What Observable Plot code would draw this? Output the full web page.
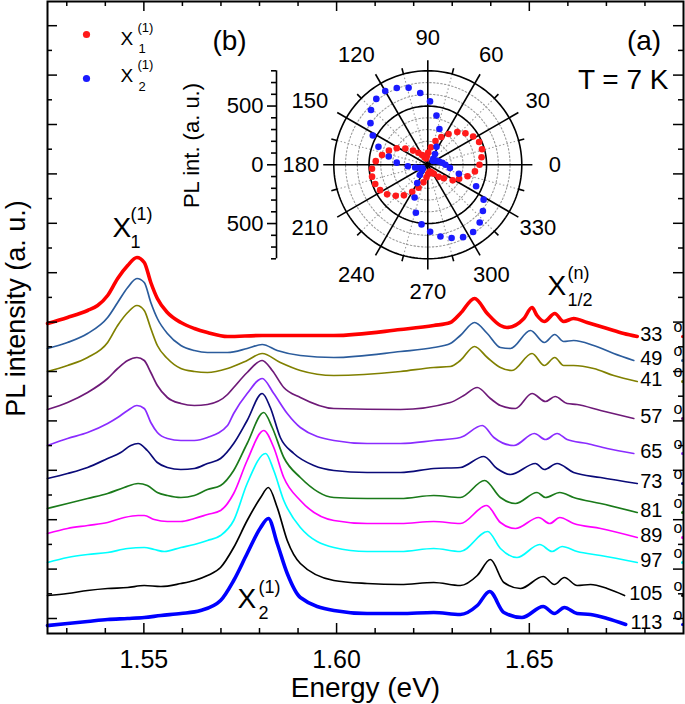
<!DOCTYPE html>
<html><head><meta charset="utf-8">
<script src="https://cdn.jsdelivr.net/npm/d3@7"></script>
<script src="https://cdn.jsdelivr.net/npm/@observablehq/plot@0.6"></script>
<style>
body{margin:0;background:#fff;}
#wrap{position:relative;width:685px;height:704px;}
#wrap svg{position:absolute;left:0;top:0;}
#wrap svg.inset{background:transparent !important;}
</style></head><body><div id="wrap"></div>
<script>
// ---------- DATA ----------
const angles = [33, 49, 41, 57, 65, 73, 81, 89, 97, 105, 113];

const s33 = [[1.5250,310],[1.5302,316],[1.5354,323],[1.5380,328],[1.5406,338],[1.5432,355],[1.5458,368],[1.5482,376],[1.5501,371],[1.5518,351],[1.5535,335],[1.5561,321],[1.5596,311],[1.5631,305],[1.5665,301],[1.5717,297],[1.5807,298],[1.5900,298],[1.5993,298],[1.6166,304],[1.6252,308],[1.6295,311],[1.6321,320],[1.6358,335],[1.6391,320],[1.6425,308],[1.6442,306],[1.6486,315],[1.6507,326],[1.6520,318],[1.6539,312],[1.6566,320],[1.6589,312],[1.6615,315],[1.6650,311],[1.6702,305],[1.6745,300],[1.6780,297]];
const s49 = [[1.5250,285],[1.5302,291],[1.5354,300],[1.5406,316],[1.5432,331],[1.5458,346],[1.5482,355],[1.5501,351],[1.5518,331],[1.5535,315],[1.5561,300],[1.5596,288],[1.5631,283],[1.5665,281],[1.5717,281],[1.5768,285],[1.5807,289],[1.5846,283],[1.5906,278],[1.5993,276],[1.6166,282],[1.6252,286],[1.6295,290],[1.6321,298],[1.6358,311],[1.6391,300],[1.6425,286],[1.6451,285],[1.6503,303],[1.6539,291],[1.6566,299],[1.6589,292],[1.6615,293],[1.6667,288],[1.6719,280],[1.6771,273]];
const s41 = [[1.5250,262],[1.5302,268],[1.5354,276],[1.5406,291],[1.5432,308],[1.5458,321],[1.5482,328],[1.5501,323],[1.5518,305],[1.5535,288],[1.5561,275],[1.5596,265],[1.5631,262],[1.5665,261],[1.5717,265],[1.5768,273],[1.5807,280],[1.5854,271],[1.5906,263],[1.5993,258],[1.6166,262],[1.6252,266],[1.6295,267],[1.6321,273],[1.6358,287],[1.6391,276],[1.6425,266],[1.6455,263],[1.6507,280],[1.6539,268],[1.6566,276],[1.6589,268],[1.6615,268],[1.6667,265],[1.6719,258],[1.6780,252]];
const s57 = [[1.5250,224],[1.5302,231],[1.5354,241],[1.5406,255],[1.5432,265],[1.5458,273],[1.5482,276],[1.5501,273],[1.5518,261],[1.5535,248],[1.5561,236],[1.5596,230],[1.5631,228],[1.5665,229],[1.5717,239],[1.5733,246],[1.5768,261],[1.5807,273],[1.5833,263],[1.5863,246],[1.5906,236],[1.5993,225],[1.6166,224],[1.6295,231],[1.6330,238],[1.6365,246],[1.6399,235],[1.6425,228],[1.6464,225],[1.6507,240],[1.6542,232],[1.6567,237],[1.6598,230],[1.6624,229],[1.6685,223],[1.6771,215]];
const s65 = [[1.5250,188],[1.5302,195],[1.5354,201],[1.5406,210],[1.5432,216],[1.5458,223],[1.5482,228],[1.5501,225],[1.5518,211],[1.5535,201],[1.5561,195],[1.5596,193],[1.5631,193],[1.5665,196],[1.5717,208],[1.5733,220],[1.5768,240],[1.5807,255],[1.5837,240],[1.5872,220],[1.5906,206],[1.5993,193],[1.6079,190],[1.6166,190],[1.6252,193],[1.6321,196],[1.6378,208],[1.6408,196],[1.6460,188],[1.6513,200],[1.6542,194],[1.6572,200],[1.6598,194],[1.6650,190],[1.6702,185],[1.6771,180]];
const s73 = [[1.5250,155],[1.5302,160],[1.5354,166],[1.5406,175],[1.5440,181],[1.5466,188],[1.5485,190],[1.5509,183],[1.5535,171],[1.5561,166],[1.5596,164],[1.5631,165],[1.5665,170],[1.5699,175],[1.5733,190],[1.5768,213],[1.5807,240],[1.5828,226],[1.5854,196],[1.5889,180],[1.5941,168],[1.5993,163],[1.6079,161],[1.6166,161],[1.6252,165],[1.6321,166],[1.6382,177],[1.6416,165],[1.6451,159],[1.6516,170],[1.6539,164],[1.6572,170],[1.6615,161],[1.6685,156],[1.6780,150]];
const s81 = [[1.5250,125],[1.5302,130],[1.5354,135],[1.5406,140],[1.5449,146],[1.5485,150],[1.5509,148],[1.5535,141],[1.5561,138],[1.5596,136],[1.5631,138],[1.5665,144],[1.5699,148],[1.5733,163],[1.5768,190],[1.5811,221],[1.5833,206],[1.5863,176],[1.5906,156],[1.5993,136],[1.6079,135],[1.6166,135],[1.6252,138],[1.6321,136],[1.6384,153],[1.6425,136],[1.6464,130],[1.6520,141],[1.6542,136],[1.6579,141],[1.6615,136],[1.6685,130],[1.6780,121]];
const s89 = [[1.5250,100],[1.5302,105],[1.5354,108],[1.5406,111],[1.5449,116],[1.5485,118],[1.5501,118],[1.5527,114],[1.5561,112],[1.5596,112],[1.5631,115],[1.5665,119],[1.5699,123],[1.5733,140],[1.5768,173],[1.5811,203],[1.5837,186],[1.5863,156],[1.5906,133],[1.5993,113],[1.6079,110],[1.6166,110],[1.6252,112],[1.6321,110],[1.6389,128],[1.6425,111],[1.6464,105],[1.6524,116],[1.6553,110],[1.6579,116],[1.6615,110],[1.6685,105],[1.6780,96]];
const s97 = [[1.5250,71],[1.5302,76],[1.5354,79],[1.5406,81],[1.5458,85],[1.5501,86],[1.5527,84],[1.5553,82],[1.5596,86],[1.5631,89],[1.5665,93],[1.5699,98],[1.5733,113],[1.5768,150],[1.5816,180],[1.5837,163],[1.5863,133],[1.5906,106],[1.5993,86],[1.6079,82],[1.6166,82],[1.6252,85],[1.6321,82],[1.6392,102],[1.6425,85],[1.6468,76],[1.6527,89],[1.6559,82],[1.6585,87],[1.6624,82],[1.6685,78],[1.6780,71]];
const s105 = [[1.5250,38],[1.5302,40],[1.5354,43],[1.5406,45],[1.5458,46],[1.5501,48],[1.5544,47],[1.5596,50],[1.5631,53],[1.5665,58],[1.5699,66],[1.5733,86],[1.5768,113],[1.5803,136],[1.5823,146],[1.5846,126],[1.5872,93],[1.5906,70],[1.5993,53],[1.6079,50],[1.6166,49],[1.6252,51],[1.6321,48],[1.6365,58],[1.6399,74],[1.6434,51],[1.6477,45],[1.6536,57],[1.6565,49],[1.6591,56],[1.6624,48],[1.6659,49],[1.6702,45],[1.6747,38]];
const s113 = [[1.5250,8],[1.5302,10],[1.5354,12],[1.5406,14],[1.5458,15],[1.5501,16],[1.5544,18],[1.5596,20],[1.5647,23],[1.5699,33],[1.5733,53],[1.5768,80],[1.5803,106],[1.5823,115],[1.5846,90],[1.5872,60],[1.5906,36],[1.5993,23],[1.6079,20],[1.6166,20],[1.6252,21],[1.6321,19],[1.6365,28],[1.6397,42],[1.6434,21],[1.6481,16],[1.6536,27],[1.6565,20],[1.6591,26],[1.6624,20],[1.6659,19],[1.6702,15],[1.6750,9]];
const spectra = [s33, s49, s41, s57, s65, s73, s81, s89, s97, s105, s113];

const xMajor = [1.55, 1.60, 1.65];
const xMinor = [1.53, 1.54, 1.56, 1.57, 1.58, 1.59, 1.61, 1.62, 1.63, 1.64, 1.66, 1.67, 1.68];
const yTicks = [15,39.7,64.4,89.1,113.8,138.5,163.2,187.9,212.6,237.3,262,286.7,311.4,336.1,360.8,385.5,410.2,434.9,459.6,484.3,509,533.7,558.4,583.1,607.8];

// polar inset (b)
const polarAngles = [0,8,16,24,32,40,48,56,64,72,80,88,96,104,112,120,128,136,144,152,160,168,176,184,192,200,208,216,224,232,240,248,256,264,272,280,288,296,304,312,320,328,336,344,352];
const redR  = [440,462,480,478,455,418,375,316,263,212,152,104,78,55,68,96,130,174,236,299,352,398,444,476,485,476,460,428,379,330,265,210,154,106,78,66,60,72,92,138,178,250,292,352,405];
const blueR = [150,125,100,82,62,55,70,110,170,320,425,540,615,675,705,725,712,672,603,530,447,340,265,170,110,80,60,55,70,110,180,300,420,510,570,620,655,685,690,660,612,560,450,275,190];
const angleLabels = [0,30,60,90,120,150,180,210,240,270,300,330];
const radialTicks = [-800,-700,-600,-500,-400,-300,-200,-100,0,100,200,300,400,500,600,700,800];
const radialLabels = [500, 0, -500];

// ---------- STYLE ----------
const FONT = '"Liberation Sans", Arial, Helvetica, sans-serif';
const colors = ["#ff0000","#2b5c9c","#808000","#6e1a78","#8a2cff","#0a0a78","#1a7a1a","#ff00ff","#00ffff","#000000","#0000ff"];
const widths = [3.6,1.7,1.7,1.7,1.7,1.7,1.7,1.7,1.7,1.7,3.6];

const X0 = 1.525, X1 = 1.69, Y0 = 0, Y1 = 632;
const PXX = (X1 - X0) / 636;   // energy per pixel
const PXY = (Y1 - Y0) / 632;   // intensity per pixel

const rows = spectra.map((s, i) => s.map(([E, I]) => ({angle: angles[i], E, I})));
const ends = spectra.map((s, i) => ({label: String(angles[i]), I: s[s.length - 1][1], color: colors[i]}));

const T = (txt, o) => Plot.text([txt], {text: d => d, fill: "black", lineAnchor: "middle", ...o});
const even = yTicks.filter((d, i) => i % 2 === 0), odd = yTicks.filter((d, i) => i % 2 === 1);
const tk = {stroke: "black", strokeWidth: 1.5};

const main = Plot.plot({
  width: 685, height: 704,
  marginLeft: 47, marginRight: 2, marginTop: 1, marginBottom: 71,
  x: {domain: [X0, X1], axis: null},
  y: {domain: [Y0, Y1], axis: null},
  style: {fontFamily: FONT, background: "white", color: "black"},
  marks: [
    ...rows.map((r, i) => Plot.line(r, {x: "E", y: "I", stroke: colors[i], strokeWidth: widths[i], curve: "monotone-x"})),
    Plot.dot(ends, {y: "I", frameAnchor: "right", dx: -1, r: 1.5, fill: "color", stroke: null}),
    // inward ticks, all four sides
    Plot.ruleX(xMinor, {x: d => d, y1: Y0, y2: Y0 + 5 * PXY, ...tk}),
    Plot.ruleX(xMajor, {x: d => d, y1: Y0, y2: Y0 + 10 * PXY, ...tk}),
    Plot.ruleX(xMinor, {x: d => d, y1: Y1, y2: Y1 - 5 * PXY, ...tk}),
    Plot.ruleX(xMajor, {x: d => d, y1: Y1, y2: Y1 - 10 * PXY, ...tk}),
    Plot.ruleY(even, {y: d => d, x1: X0, x2: X0 + 10 * PXX, ...tk}),
    Plot.ruleY(odd, {y: d => d, x1: X0, x2: X0 + 5 * PXX, ...tk}),
    Plot.ruleY(even, {y: d => d, x1: X1, x2: X1 - 10 * PXX, ...tk}),
    Plot.ruleY(odd, {y: d => d, x1: X1, x2: X1 - 5 * PXX, ...tk}),
    Plot.frame({stroke: "black", strokeWidth: 2}),
    Plot.axisX(xMajor, {anchor: "bottom", tickSize: 0, tickPadding: 17, tickFormat: d => d.toFixed(2), fontSize: 25, label: null}),
    // angle labels at the right end of each spectrum
    Plot.text(ends, {y: "I", text: "label", frameAnchor: "right", dx: -21, dy: -2, textAnchor: "end", lineAnchor: "middle", fontSize: 20, fill: "black"}),
    Plot.text(ends, {y: "I", text: () => "o", frameAnchor: "right", dx: -5.5, dy: -10, textAnchor: "middle", lineAnchor: "middle", fontSize: 16, fill: "black"}),
    // axis titles
    T("Energy (eV)", {frameAnchor: "bottom", dy: 55, textAnchor: "middle", fontSize: 28}),
    T("PL intensity (a. u.)", {frameAnchor: "left", dx: -31, dy: -9, rotate: -90, textAnchor: "middle", fontSize: 27}),
    // peak annotations
    T("X", {frameAnchor: "top-left", dx: 65, dy: 227, textAnchor: "start", fontSize: 28}),
    T("(1)", {frameAnchor: "top-left", dx: 83, dy: 213, textAnchor: "start", fontSize: 18}),
    T("1", {frameAnchor: "top-left", dx: 83, dy: 241, textAnchor: "start", fontSize: 18}),
    T("X", {frameAnchor: "top-left", dx: 190, dy: 598, textAnchor: "start", fontSize: 28}),
    T("(1)", {frameAnchor: "top-left", dx: 211, dy: 586, textAnchor: "start", fontSize: 18}),
    T("2", {frameAnchor: "top-left", dx: 211, dy: 612, textAnchor: "start", fontSize: 18}),
    T("X", {frameAnchor: "top-left", dx: 500, dy: 285, textAnchor: "start", fontSize: 28}),
    T("(n)", {frameAnchor: "top-left", dx: 520, dy: 272, textAnchor: "start", fontSize: 18}),
    T("1/2", {frameAnchor: "top-left", dx: 520, dy: 299, textAnchor: "start", fontSize: 18}),
    T("(a)", {frameAnchor: "top-right", dx: -39.5, dy: 39.5, textAnchor: "middle", fontSize: 28}),
    T("T = 7 K", {frameAnchor: "top-right", dx: -15, dy: 79, textAnchor: "end", fontSize: 28})
  ]
});

// ---------- INSET (polar) ----------
const K = 0.1175;            // px per a.u. of PL int.
const CX = 427.3, CY = 164.3, IW = 685, IH = 330;
const rad = a => a * Math.PI / 180;
const px = (r, a) => r * Math.cos(rad(a));
const py = (r, a) => r * Math.sin(rad(a));
const circle = r => d3.range(0, 362, 2).map(a => ({x: px(r, a), y: py(r, a)}));
const RAX = (276 - CX) / K;   // x of the radial intensity axis
const red = polarAngles.map((a, i) => ({a, r: redR[i]}));
const blue = polarAngles.map((a, i) => ({a, r: blueR[i]}));
const minorSpokes = angleLabels.map(a => a + 15);
const leftLab = angleLabels.filter(a => Math.cos(rad(a)) < -0.3 && Math.cos(rad(a)) > -0.95);
const otherLab = angleLabels.filter(a => !leftLab.includes(a));
const L = 127 / K;

const inset = Plot.plot({
  width: IW, height: IH, margin: 0,
  x: {domain: [-CX / K, (IW - CX) / K], axis: null},
  y: {domain: [(CY - IH) / K, CY / K], axis: null},
  style: {fontFamily: FONT, background: "transparent", overflow: "visible"},
  marks: [
    ...[100, 200, 300, 400, 600, 700].map(r => Plot.line(circle(r), {x: "x", y: "y", stroke: "#9a9a9a", strokeWidth: 1.1, strokeDasharray: "1.5,2.2"})),
    Plot.link(minorSpokes, {x1: 0, y1: 0, x2: a => px(800, a), y2: a => py(800, a), stroke: "#9a9a9a", strokeWidth: 1.1, strokeDasharray: "1.5,2.2"}),
    Plot.line(circle(500), {x: "x", y: "y", stroke: "black", strokeWidth: 1.6}),
    Plot.line(circle(800), {x: "x", y: "y", stroke: "black", strokeWidth: 1.6}),
    Plot.link(angleLabels, {x1: 0, y1: 0, x2: a => px(890, a), y2: a => py(890, a), stroke: "black", strokeWidth: 1.6}),
    Plot.link(minorSpokes, {x1: a => px(800, a), y1: a => py(800, a), x2: a => px(850, a), y2: a => py(850, a), stroke: "black", strokeWidth: 1.6}),
    Plot.dot(red, {x: d => px(d.r, d.a), y: d => py(d.r, d.a), r: 3.3, fill: "#ff1a1a", stroke: null}),
    Plot.dot(blue, {x: d => px(d.r, d.a), y: d => py(d.r, d.a), r: 3.3, fill: "#1a1aff", stroke: null}),
    Plot.text(otherLab, {x: a => px(L, a), y: a => py(L, a), text: a => String(a), fontSize: 22, fill: "black", lineAnchor: "middle"}),
    Plot.text(leftLab, {x: a => px(L, a), y: a => py(L, a), text: a => String(a), dx: -8, fontSize: 22, fill: "black", lineAnchor: "middle"}),
    // radial intensity axis
    Plot.ruleX([RAX], {y1: -800, y2: 800, stroke: "black", strokeWidth: 1.6}),
    Plot.ruleY(radialTicks, {y: d => d, x1: d => RAX - (d % 500 === 0 ? 9 : 5) / K, x2: RAX, stroke: "black", strokeWidth: 1.6}),
    Plot.text(radialLabels, {x: RAX, y: d => d, text: d => String(Math.abs(d)), dx: -13, textAnchor: "end", lineAnchor: "middle", fontSize: 22, fill: "black"}),
    T("PL int. (a. u.)", {frameAnchor: "top-left", dx: 191, dy: 145, rotate: -90, textAnchor: "middle", fontSize: 22}),
    T("(b)", {frameAnchor: "top-left", dx: 229, dy: 40.5, textAnchor: "middle", fontSize: 28}),
    // legend
    Plot.dot([0], {frameAnchor: "top-left", dx: 86, dy: 34, r: 3.6, fill: "#ff1a1a", stroke: null}),
    Plot.dot([0], {frameAnchor: "top-left", dx: 86, dy: 78, r: 3.6, fill: "#1a1aff", stroke: null}),
    T("X", {frameAnchor: "top-left", dx: 120, dy: 38.5, textAnchor: "start", fontSize: 19}),
    T("(1)", {frameAnchor: "top-left", dx: 137, dy: 27.5, textAnchor: "start", fontSize: 13}),
    T("1", {frameAnchor: "top-left", dx: 138, dy: 48, textAnchor: "start", fontSize: 13}),
    T("X", {frameAnchor: "top-left", dx: 120, dy: 75.5, textAnchor: "start", fontSize: 19}),
    T("(1)", {frameAnchor: "top-left", dx: 137, dy: 64.5, textAnchor: "start", fontSize: 13}),
    T("2", {frameAnchor: "top-left", dx: 138, dy: 86, textAnchor: "start", fontSize: 13})
  ]
});
inset.classList.add("inset");

const wrap = document.getElementById("wrap");
wrap.append(main, inset);
</script></body></html>
